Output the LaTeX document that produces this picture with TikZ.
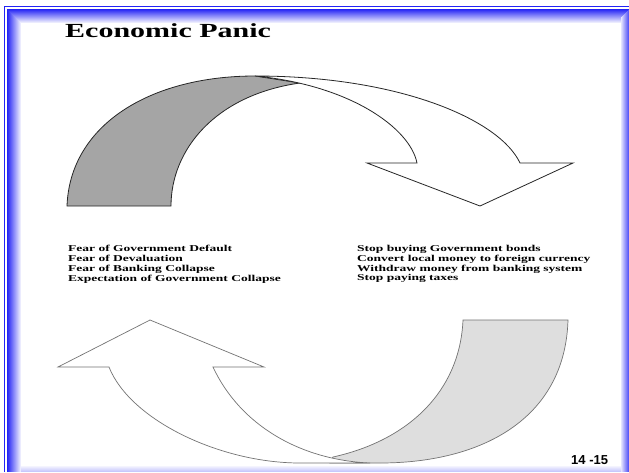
\documentclass[tikz,border=0pt]{standalone}
\usepackage{fontspec}
\setmainfont{Liberation Serif}
\newfontfamily\slidefont{Liberation Sans}
\usepackage{tikz}
\usepackage{xcolor}
\definecolor{frameblue}{RGB}{35,35,245}
\definecolor{ribbondark}{RGB}{165,165,165}
\definecolor{ribbonlight}{RGB}{222,222,222}
\newcommand{\wideText}[1]{\scalebox{1.5}[1]{#1}}
\tikzset{
    list-text/.style = {anchor=north west, inner sep=0pt, align=left, font=\fontsize{9}{9.9}\selectfont\bfseries},
    front-arrow/.style = {draw=black!85, fill=white, line width=0.8pt, line join=miter},
    back-ribbon/.style = {draw=black!85, fill=ribbondark, line width=0.8pt},
    lower-arrow/.style = {draw=black!55, fill=white, line width=0.7pt, line join=miter},
    lower-ribbon/.style = {draw=black!55, fill=ribbonlight, line width=0.7pt},
}

\begin{document}
\begin{tikzpicture}[x=1pt, y=-1pt]
\useasboundingbox (0,0) rectangle (629,472);
\fill[white] (0,0) rectangle (629,472);

\draw[frameblue, line width=1pt] (4.5,472) -- (4.5,6.5) -- (629,6.5);
\foreach \i in {0,...,13} {
    \pgfmathtruncatemacro{\tint}{100-7*\i}
    \draw[frameblue!\tint!white, line width=1.05pt] (7.5+\i,472) -- (7.5+\i,9.5+\i) -- (629,9.5+\i);
}
\foreach \i in {0,...,7} {
    \pgfmathtruncatemacro{\tint}{75-9*\i}
    \draw[frameblue!\tint!white, line width=1.05pt] (628.5-\i,9.5+\i) -- (628.5-\i,472);
}
\foreach \i in {0,...,5} {
    \pgfmathtruncatemacro{\tint}{25-4*\i}
    \draw[frameblue!\tint!white, line width=1.05pt] (21,471.5-\i) -- (621,471.5-\i);
}

\node[anchor=base west, inner sep=0pt, font=\fontsize{20}{24}\selectfont\bfseries] (title) at (65,37.3) {\wideText{Economic Panic}};

\draw[back-ribbon] (67,206) .. controls (70,125) and (150,76) .. (255,76) -- (300,83)
    .. controls (215,95) and (171,150) .. (171,206) -- cycle;
\draw[front-arrow] (255,76) .. controls (400,76) and (500,120) .. (520,163) -- (573,163) -- (480,206)
    -- (367,163) -- (417,163) .. controls (410,128) and (350,85) .. (255,76) -- cycle;

\node[list-text] (causes) at (68,244.8) {\wideText{Fear of Government Default}\\
    \wideText{Fear of Devaluation}\\
    \wideText{Fear of Banking Collapse}\\
    \wideText{Expectation of Government Collapse}};
\node[list-text] (actions) at (357,244.8) {\wideText{Stop buying Government bonds}\\
    \wideText{Convert local money to foreign currency}\\
    \wideText{Withdraw money from banking system}\\
    \wideText{Stop paying taxes}};

\draw[lower-ribbon] (463,320) -- (568,320) .. controls (565,420) and (480,463) .. (380,463) -- (330,463)
    -- (333,457) .. controls (410,440) and (460,390) .. (463,320) -- cycle;
\draw[lower-arrow] (150,320) -- (264,367) -- (213,367) .. controls (240,425) and (300,460) .. (370,463)
    -- (300,463) .. controls (220,463) and (130,420) .. (109,367) -- (58,367) -- cycle;

\node[anchor=base west, inner sep=0pt, font=\slidefont\bfseries\fontsize{13}{15}\selectfont] (pagenum) at (571,464) {14 -15};
\end{tikzpicture}
\end{document}
